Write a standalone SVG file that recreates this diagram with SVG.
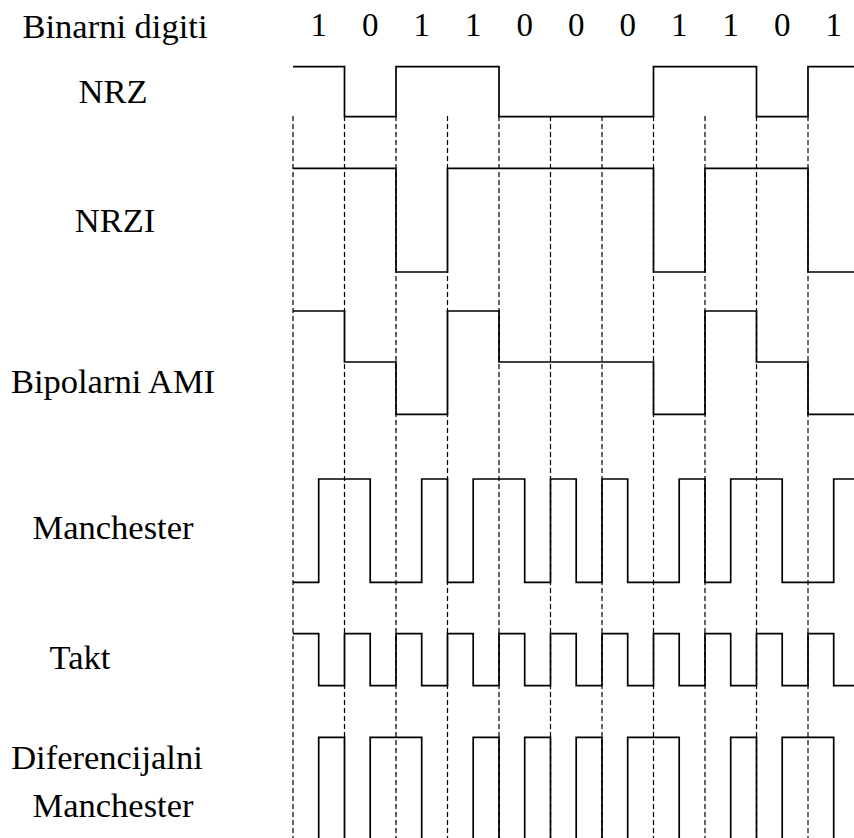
<svg xmlns="http://www.w3.org/2000/svg" width="854" height="838" viewBox="0 0 854 838">
<style>
.lbl{font-family:"Liberation Serif","Times New Roman",serif;font-size:34.5px;fill:#000;text-anchor:middle}
.dig{font-family:"Liberation Serif","Times New Roman",serif;font-size:33px;fill:#000;text-anchor:middle}
.sig{fill:none;stroke:#000;stroke-width:1.7}
.grid{fill:none;stroke:#000;stroke-width:1.2;stroke-dasharray:5,3}
</style>
<rect width="854" height="838" fill="#fff"/>
<g id="labels">
<text class="lbl" x="115" y="38">Binarni digiti</text>
<text class="lbl" x="113" y="103">NRZ</text>
<text class="lbl" x="115" y="232">NRZI</text>
<text class="lbl" x="113" y="393">Bipolarni AMI</text>
<text class="lbl" x="113" y="539">Manchester</text>
<text class="lbl" x="80" y="669">Takt</text>
<text class="lbl" x="107" y="769">Diferencijalni</text>
<text class="lbl" x="113" y="817">Manchester</text>
</g>
<g id="digits">
<text class="dig" x="318.7" y="36">1</text>
<text class="dig" x="370.2" y="36">0</text>
<text class="dig" x="421.7" y="36">1</text>
<text class="dig" x="473.2" y="36">1</text>
<text class="dig" x="524.7" y="36">0</text>
<text class="dig" x="576.2" y="36">0</text>
<text class="dig" x="627.7" y="36">0</text>
<text class="dig" x="679.2" y="36">1</text>
<text class="dig" x="730.7" y="36">1</text>
<text class="dig" x="782.2" y="36">0</text>
<text class="dig" x="833.7" y="36">1</text>
</g>
<g id="gridlines">
<path class="grid" d="M293,116V838M344.5,116V838M396,116V838M447.5,116V838M499,116V838M550.5,116V838M602,116V838M653.5,116V838M705,116V838M756.5,116V838M808,116V838"/>
</g>
<g id="nrz">
<path class="sig" d="M293,66.7H344.5V116.7H396V66.7H499V116.7H653.5V66.7H756.5V116.7H808V66.7H854"/>
</g>
<g id="nrzi">
<path class="sig" d="M293,168.3H396V272H447.5V168.3H653.5V272H705V168.3H808V272H854"/>
</g>
<g id="ami">
<path class="sig" d="M293,311H344.5V362H396V414.3H447.5V311H499V362H653.5V414.3H705V311H756.5V362H808V414.3H854"/>
</g>
<g id="manchester">
<path class="sig" d="M293,582.3H318.7V479H370.2V582.3H421.7V479H447.5V582.3H473.2V479H524.7V582.3H550.5V479H576.2V582.3H602V479H627.7V582.3H679.2V479H705V582.3H730.7V479H782.2V582.3H833.7V479H854"/>
</g>
<g id="takt">
<path class="sig" d="M293,633.7H318.7V685.7H344.5V633.7H370.2V685.7H396V633.7H421.7V685.7H447.5V633.7H473.2V685.7H499V633.7H524.7V685.7H550.5V633.7H576.2V685.7H602V633.7H627.7V685.7H653.5V633.7H679.2V685.7H705V633.7H730.7V685.7H756.5V633.7H782.2V685.7H808V633.7H833.7V685.7H854"/>
</g>
<g id="diffmanchester">
<path class="sig" d="M318.7,845V737.3H344.5V845M370.2,845V737.3H421.7V845M473.2,845V737.3H499V845M524.7,845V737.3H550.5V845M576.2,845V737.3H602V845M627.7,845V737.3H679.2V845M730.7,845V737.3H756.5V845M782.2,845V737.3H833.7V845"/>
</g>
</svg>
